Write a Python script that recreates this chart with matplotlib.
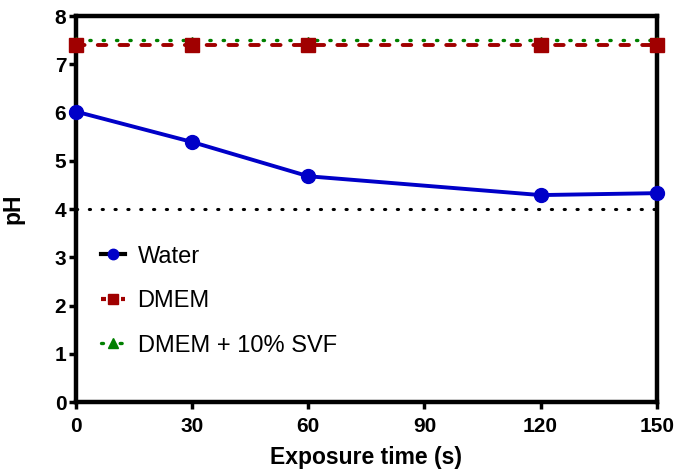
import matplotlib
matplotlib.use('Agg')
import matplotlib.pyplot as plt
from matplotlib.lines import Line2D

plt.rcParams['font.family'] = ['Liberation Sans', 'DejaVu Sans']

time_s = [0, 30, 60, 120, 150]
water = [6.02, 5.39, 4.68, 4.29, 4.33]
dmem = [7.40, 7.40, 7.40, 7.40, 7.40]
dmem_svf = [7.50, 7.50, 7.50, 7.50, 7.50]
threshold = 4.0

blue = '#0000c8'
red = '#a00000'
green = '#008000'

fig = plt.figure(figsize=(6.75, 4.73), dpi=100)
ax = fig.add_axes([0.1126, 0.150, 0.8604, 0.816])

ax.plot(time_s, [threshold] * len(time_s), color='black', linestyle=(0, (0.4, 3.8)),
        linewidth=2.2, dash_capstyle='round', clip_on=False)
ax.plot(time_s, dmem_svf, color=green, linestyle=(0, (0.4, 3.6)), linewidth=2.4,
        dash_capstyle='round', marker='^', markersize=5, clip_on=False, zorder=3)
ax.plot(time_s, dmem, color=red, linestyle=(0, (2.2, 3.4)), linewidth=2.8,
        dash_capstyle='round', marker='s', markersize=9.5, clip_on=False, zorder=4)
ax.plot(time_s, water, color=blue, linewidth=2.8, marker='o', markersize=10,
        clip_on=False, zorder=5)

ax.set_xlim(0, 150)
ax.set_ylim(0, 8)
ax.set_xticks([0, 30, 60, 90, 120, 150])
ax.set_yticks(range(0, 9))

for s in ax.spines.values():
    s.set_linewidth(3.2)
ax.tick_params(axis='both', width=2.5, length=5, labelsize=15, pad=2)
ax.tick_params(axis='x', pad=6)
for lab in ax.get_xticklabels() + ax.get_yticklabels():
    lab.set_fontweight('bold')

ax.set_xlabel('Exposure time (s)', fontsize=16.5, fontweight='bold', labelpad=7)
ax.set_ylabel('pH', fontsize=16.5, fontweight='bold', labelpad=22)

handles = [
    Line2D([], [], color='black', linewidth=3, marker='o', markersize=7.5,
           markerfacecolor=blue, markeredgecolor=blue),
    Line2D([], [], color=red, linewidth=3, linestyle=(0, (1.2, 1.2)), marker='s', markersize=7.5),
    Line2D([], [], color=green, linewidth=2.4, linestyle=(0, (0.6, 5)), dash_capstyle='round',
           marker='^', markersize=7.5),
]
labels = ['Water', 'DMEM', 'DMEM + 10% SVF']
ax.legend(handles, labels, loc='upper left', bbox_to_anchor=(0.043, 0.405), frameon=False,
          fontsize=17, handlelength=1.0, labelspacing=0.95, handletextpad=0.55,
          borderpad=0, borderaxespad=0)

fig.savefig('out.png', dpi=100)
